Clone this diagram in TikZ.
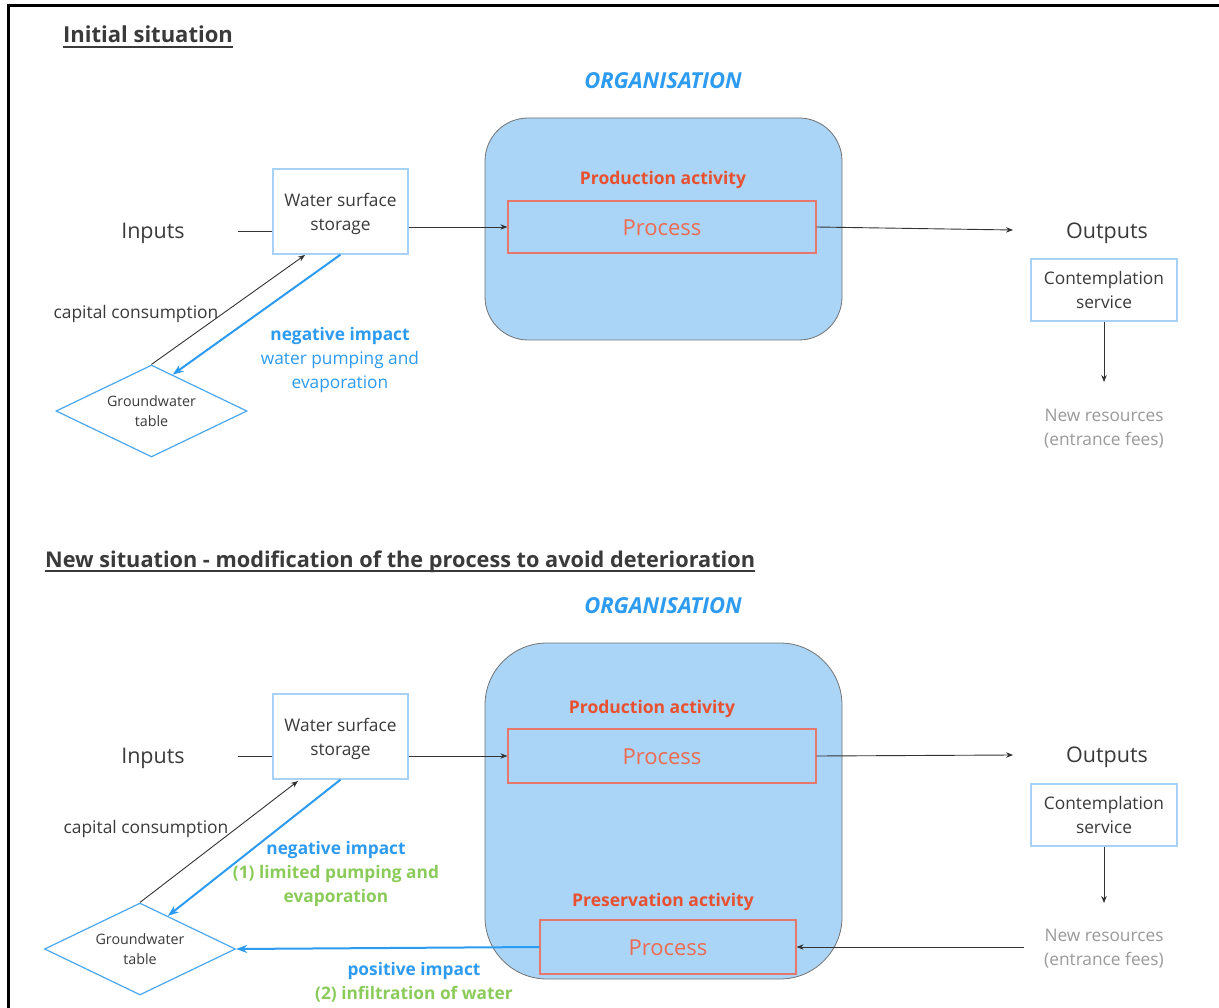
\documentclass[tikz,border=0pt]{standalone}
\usepackage{fontspec}
\setmainfont{Open Sans}
\usetikzlibrary{shapes.geometric,arrows.meta,calc}
\definecolor{blueT}{HTML}{2D9BF0}
\definecolor{orgfill}{HTML}{AAD5F7}
\definecolor{redT}{HTML}{E9502F}
\definecolor{procline}{HTML}{E8776B}
\definecolor{procT}{HTML}{EE6A50}
\definecolor{boxline}{HTML}{A8D2F5}
\definecolor{diaLine}{HTML}{4AA8F0}
\definecolor{greenT}{HTML}{8BCB5A}
\definecolor{grayT}{HTML}{3A3A3A}
\definecolor{lgrayT}{HTML}{9A9A9A}
\newcommand{\fsz}[2]{\fontsize{#1}{#2}\selectfont}
\newcommand{\mlines}[2]{\raisebox{#1}[\height][\depth]{\begin{tabular}{@{}c@{}}#2\end{tabular}}}
\begin{document}
\begin{tikzpicture}[x=1pt,y=-1pt,
  title/.style={inner sep=0pt,anchor=base west,text=grayT,font=\fsz{22}{26}\bfseries},
  orgtitle/.style={inner sep=0pt,text=blueT,font=\fsz{22}{26}\bfseries\itshape},
  orgbox/.style={draw=black!55,line width=0.8pt,fill=orgfill,minimum width=357pt,inner sep=0pt},
  acttitle/.style={inner sep=0pt,text=redT,font=\fsz{17.5}{21}\bfseries},
  procbox/.style={draw=procline,line width=1.2pt,minimum height=53pt,inner sep=0pt,text=procT,font=\fsz{22}{26}},
  lbox/.style={draw=boxline,line width=1.3pt,fill=white,inner sep=0pt,text=grayT,font=\fsz{17.3}{24}},
  big/.style={inner sep=0pt,text=grayT,font=\fsz{21.5}{26}},
  lbl/.style={inner sep=0pt,text=grayT,font=\fsz{17.4}{24}},
  res/.style={inner sep=0pt,text=lgrayT,align=center,font=\fsz{17.3}{24}},
  gw/.style={diamond,draw=diaLine,line width=1.2pt,fill=white,aspect=2.08,minimum width=191pt,minimum height=92pt,inner sep=0pt,align=center,text=grayT,font=\fsz{14.3}{20}},
  arr/.style={draw=black!80,line width=0.9pt,-{Stealth[length=7pt,width=5.5pt]}},
  plain/.style={draw=black!80,line width=0.9pt},
  barr/.style={draw=blueT,line width=2pt,-{Stealth[length=11pt,width=8pt]}},
  impact/.style={inner sep=0pt,align=center,font=\fsz{17.3}{24}}
]
\useasboundingbox (0,0) rectangle (1219,1008);
\fill[white] (0,0) rectangle (1219,1008);
\draw[line width=3pt] (8.7,1008) -- (8.7,6) -- (1219,6);

%% ===== Initial situation =====
\node[title] (t1) at (63,43) {Initial situation\hspace{4pt}};
\draw[grayT,line width=1.6pt] ([yshift=-4pt]t1.base west) -- ([yshift=-4pt]t1.base east);
\node[orgtitle] (org1) at (663,81) {ORGANISATION};
\node[orgbox,minimum height=222pt,rounded corners=43pt] (ob1) at (663.5,229) {};
\node[acttitle] (pa1) at (663,180) {Production activity};
\node[procbox,minimum width=308pt,minimum height=52pt] (p1) at (662,227) {\raisebox{-1pt}[\height][\depth]{Process}};
\node[lbox,minimum width=135pt,minimum height=85pt] (ws1) at (340.5,211.5) {\mlines{-2pt}{Water surface\\storage}};
\node[big] (in1) at (153,233) {Inputs};
\node[big] (out1) at (1107,233) {Outputs};
\node[lbox,minimum width=146pt,minimum height=62pt] (cs1) at (1104,290) {\mlines{-2pt}{Contemplation\\service}};
\node[res] (nr1) at (1104,429) {New resources\\(entrance fees)};
\node[gw] (gw1) at (151.5,411) {Groundwater\\table};
\node[lbl] (cc1) at (136,314) {capital consumption};
\node[impact] (ni1) at (340,360) {\textcolor{blueT}{\bfseries negative impact}\\\textcolor{blueT}{water pumping and}\\\textcolor{blueT}{evaporation}};

\coordinate (inS1) at (238,231);
\coordinate (outE1) at (1013,230);
\coordinate (nrE1) at (1104,382);
\coordinate (ccE1) at (305,255);
\draw[plain] (inS1) -- (ws1.west |- inS1);
\draw[arr] (ws1.east |- p1.west) -- (p1.west);
\draw[arr] (p1.east) -- (outE1);
\draw[arr] (cs1.south) -- (nrE1);
\draw[arr] (gw1.north) -- (ccE1);
\draw[barr] (ws1.south) -- ($(gw1.north)!0.22!(gw1.east)$);

%% ===== New situation =====
\node[title,font=\fsz{21.7}{26}\bfseries] (t2) at (45,567) {New situation - modification of the process to avoid deterioration};
\draw[grayT,line width=1.6pt] ([yshift=-4pt]t2.base west) -- ([yshift=-4pt]t2.base east);
\node[orgtitle] (org2) at (663,606) {ORGANISATION};
\node[orgbox,minimum height=336pt,rounded corners=62pt] (ob2) at (663.5,811) {};
\node[acttitle] (pa2) at (652,709) {Production activity};
\node[procbox,minimum width=308pt,minimum height=54pt] (p2) at (662,756) {\raisebox{-1pt}[\height][\depth]{Process}};
\node[acttitle] (pv2) at (663,902) {Preservation activity};
\node[procbox,minimum width=256pt,minimum height=54pt] (p3) at (668,947) {\raisebox{-1pt}[\height][\depth]{Process}};
\node[lbox,minimum width=135pt,minimum height=85pt] (ws2) at (340.5,736.5) {\mlines{-2pt}{Water surface\\storage}};
\node[big] (in2) at (153,758) {Inputs};
\node[big] (out2) at (1107,757) {Outputs};
\node[lbox,minimum width=146pt,minimum height=62pt] (cs2) at (1104,815) {\mlines{-2pt}{Contemplation\\service}};
\node[res] (nr2) at (1104,949) {New resources\\(entrance fees)};
\node[gw] (gw2) at (140,949) {Groundwater\\table};
\node[lbl] (cc2) at (146,829) {capital consumption};
\node[impact] (ni2) at (336,874.5) {\textcolor{blueT}{\bfseries negative impact}\\\textcolor{greenT}{\bfseries (1) limited pumping and}\\\textcolor{greenT}{\bfseries evaporation}};
\node[impact] (pi2) at (414,982.5) {\textcolor{blueT}{\bfseries positive impact}\\\textcolor{greenT}{\bfseries (2) infiltration of water}};

\coordinate (inS2) at (238,756);
\coordinate (outE2) at (1013,755);
\coordinate (nrE2) at (1104,903);
\coordinate (ccE2) at (298,781);
\coordinate (nrS2) at (1024,947);
\draw[plain] (inS2) -- (ws2.west |- inS2);
\draw[arr] (ws2.east |- p2.west) -- (p2.west);
\draw[arr] (p2.east) -- (outE2);
\draw[arr] (cs2.south) -- (nrE2);
\draw[arr] (nrS2) -- (p3.east);
\draw[arr] (gw2.north) -- (ccE2);
\draw[barr] (ws2.south) -- ($(gw2.north)!0.29!(gw2.east)$);
\draw[barr] (p3.west) -- (gw2.east);
\end{tikzpicture}
\end{document}
